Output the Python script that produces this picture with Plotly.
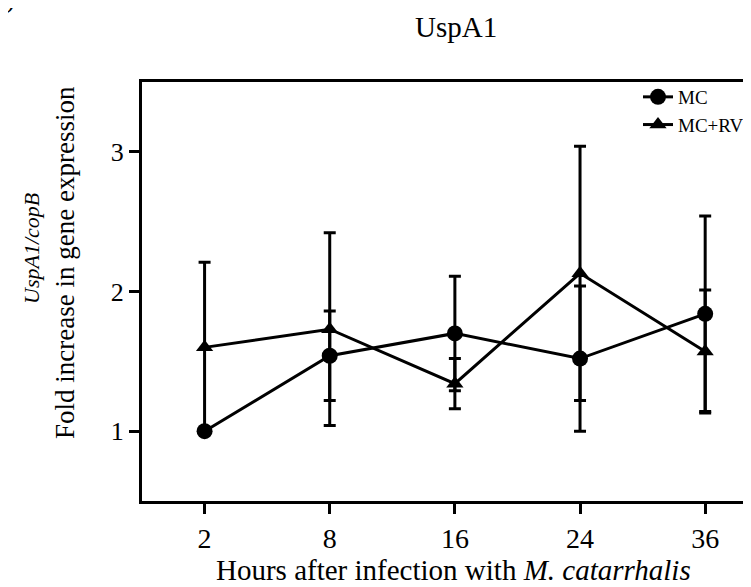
import plotly.graph_objects as go

hours = ["2", "8", "16", "24", "36"]
mc = [1.0, 1.54, 1.70, 1.52, 1.84]
mc_err = [0.0, 0.32, 0.41, 0.52, 0.70]
mcrv = [1.60, 1.73, 1.34, 2.13, 1.57]
mcrv_err = [0.61, 0.69, 0.18, 0.91, 0.44]
y_ticks = [1, 2, 3]

W, H = 751, 587
L, R, T, B = 134, 0, 74, 94
pw, ph = W - L - R, H - T - B

def px_x(px):
    return (px - L) / pw

def px_y(py):
    return (H - B - py) / ph

FONT = "Liberation Serif"

fig = go.Figure()
fig.add_trace(go.Scatter(
    x=hours, y=mc, name="MC", mode="lines+markers",
    line=dict(color="black", width=3),
    marker=dict(symbol="circle", size=16, color="black"),
    error_y=dict(type="data", array=mc_err, visible=True, color="black", thickness=3, width=6),
))
fig.add_trace(go.Scatter(
    x=hours, y=mcrv, name="MC+RV", mode="lines+markers",
    line=dict(color="black", width=3),
    marker=dict(symbol="triangle-up", size=15, color="black"),
    error_y=dict(type="data", array=mcrv_err, visible=True, color="black", thickness=3, width=6),
))

fig.update_layout(
    width=W, height=H,
    margin=dict(l=L, r=R, t=T, b=B),
    paper_bgcolor="white", plot_bgcolor="white",
    font=dict(family=FONT, color="black"),
    showlegend=True,
    legend=dict(x=px_x(630), y=px_y(70), xanchor="left", yanchor="top",
                bgcolor="rgba(0,0,0,0)", font=dict(size=19, family=FONT),
                tracegroupgap=0, itemwidth=30),
    xaxis=dict(type="category", range=[-0.5, 4.43], showline=True, linecolor="black",
               linewidth=3, mirror=True, ticks="outside", ticklen=10, tickwidth=3,
               tickcolor="black", showgrid=False, zeroline=False,
               tickfont=dict(size=28, family=FONT)),
    yaxis=dict(range=[0.5, 3.5], tickvals=y_ticks, showline=True, linecolor="black",
               linewidth=3, ticks="outside", ticklen=10, tickwidth=3, tickcolor="black",
               showgrid=False, zeroline=False, tickfont=dict(size=26, family=FONT)),
    annotations=[
        dict(text="UspA1", xref="paper", yref="paper", x=px_x(448), y=px_y(19),
             showarrow=False, font=dict(size=29, family=FONT), xanchor="center", yanchor="middle"),
        dict(text="Hours after infection with <i>M. catarrhalis</i>", xref="paper", yref="paper",
             x=px_x(446), y=px_y(562), showarrow=False, font=dict(size=29, family=FONT),
             xanchor="center", yanchor="middle"),
        dict(text="Fold increase in gene expression", xref="paper", yref="paper",
             x=px_x(57), y=px_y(255), textangle=-90, showarrow=False,
             font=dict(size=27, family=FONT), xanchor="center", yanchor="middle"),
        dict(text="<i>UspA1/copB</i>", xref="paper", yref="paper",
             x=px_x(24), y=px_y(241), textangle=-90, showarrow=False,
             font=dict(size=22, family=FONT), xanchor="center", yanchor="middle"),
        dict(text=")", xref="paper", yref="paper", x=px_x(3), y=px_y(8),
             showarrow=False, font=dict(size=29, family=FONT), xanchor="center", yanchor="bottom"),
    ],
)

fig.write_html("out.html")
